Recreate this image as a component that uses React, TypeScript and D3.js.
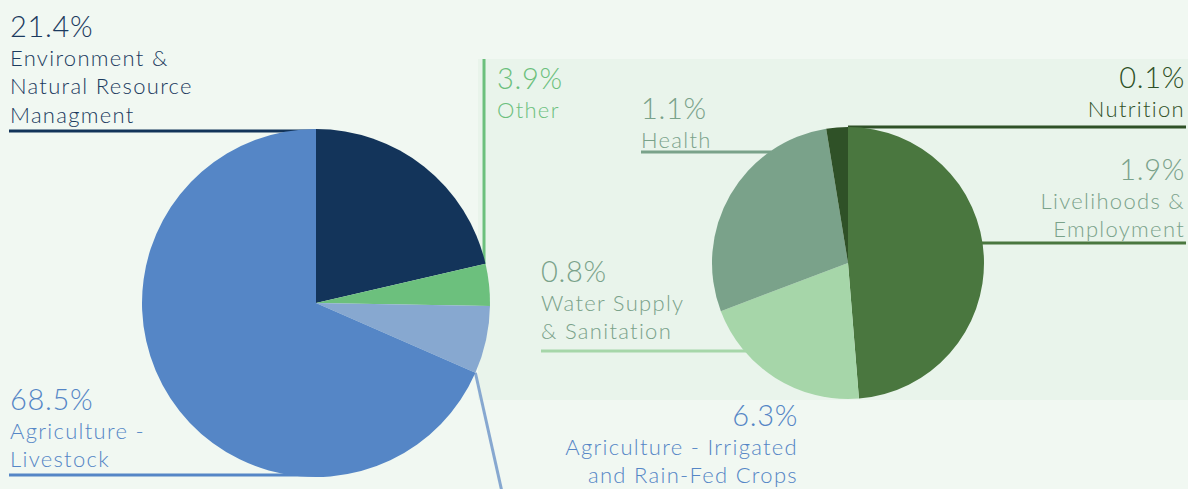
import React from "react";
import * as d3 from "d3";

const mainLabels = ["Environment & Natural Resource Managment", "Other", "Agriculture - Irrigated and Rain-Fed Crops", "Agriculture - Livestock"];
const mainValues = [21.4, 3.9, 6.3, 68.5];
const mainColors = ["#13345a", "#6cc07d", "#87a8d0", "#5586c6"];

const subLabels = ["Livelihoods & Employment", "Water Supply & Sanitation", "Health", "Nutrition"];
const subValues = [1.9, 0.8, 1.1, 0.1];
const subColors = ["#4a773f", "#a6d6a9", "#7aa28a", "#2f5127"];

const W = 1188;
const H = 489;
const FONT = "Lato, 'Open Sans', sans-serif";

export default function App() {
  const pieGen = d3.pie<number>().sort(null).startAngle(0).endAngle(2 * Math.PI);
  const mainArcs = pieGen(mainValues);
  const subArcs = pieGen(subValues);

  const c1 = { x: 316, y: 303, r: 174 };
  const c2 = { x: 848, y: 263, r: 136 };

  const arc1 = d3.arc<d3.PieArcDatum<number>>().innerRadius(0).outerRadius(c1.r);
  const arc2 = d3.arc<d3.PieArcDatum<number>>().innerRadius(0).outerRadius(c2.r);

  const pt = (c: { x: number; y: number; r: number }, a: number) => ({
    x: c.x + c.r * Math.sin(a),
    y: c.y - c.r * Math.cos(a),
  });
  const edgeXAtY = (c: { x: number; y: number; r: number }, y: number, side: number) =>
    c.x + side * Math.sqrt(c.r * c.r - (y - c.y) * (y - c.y));

  const otherStart = pt(c1, mainArcs[1].startAngle);
  const irrEnd = pt(c1, mainArcs[2].endAngle);

  const pctSize = 29;
  const lblSize = 22;

  type T = { lines: string[]; x: number; y: number; anchor: string; color: string };
  const texts: T[] = [
    { lines: ["21.4%", "Environment &", "Natural Resource", "Managment"], x: 10, y: 37, anchor: "start", color: "#1b3a5e" },
    { lines: ["3.9%", "Other"], x: 497, y: 89, anchor: "start", color: "#6cc07d" },
    { lines: ["1.1%", "Health"], x: 641, y: 119, anchor: "start", color: "#7aa28a" },
    { lines: ["0.1%", "Nutrition"], x: 1185, y: 88, anchor: "end", color: "#2f5127" },
    { lines: ["1.9%", "Livelihoods &", "Employment"], x: 1185, y: 180, anchor: "end", color: "#7aa28a" },
    { lines: ["0.8%", "Water Supply", "& Sanitation"], x: 541, y: 282, anchor: "start", color: "#7aa28a" },
    { lines: ["68.5%", "Agriculture -", "Livestock"], x: 10, y: 410, anchor: "start", color: "#5586c6" },
    { lines: ["6.3%", "Agriculture - Irrigated", "and Rain-Fed Crops"], x: 798, y: 426, anchor: "end", color: "#5586c6" },
  ];

  return (
    <svg width={W} height={H} style={{ position: "absolute", left: 0, top: 0 }}>
      <rect x={0} y={0} width={W} height={H} fill="#f1f8f2" />
      <rect x={478} y={59} width={W - 478} height={341} fill="#e9f4eb" />

      <g strokeWidth={3} fill="none">
        <line x1={9} x2={c1.x} y1={131} y2={131} stroke="#13345a" />
        <line x1={otherStart.x - 1.5} x2={otherStart.x - 1.5} y1={59} y2={otherStart.y} stroke="#6cc07d" />
        <line x1={irrEnd.x} y1={irrEnd.y} x2={502} y2={492} stroke="#87a8d0" />
        <line x1={9} x2={c1.x} y1={475} y2={475} stroke="#5586c6" />
        <line x1={c2.x} x2={1186} y1={127} y2={127} stroke="#2f5127" />
        <line x1={edgeXAtY(c2, 243, 1) - 2} x2={1186} y1={243} y2={243} stroke="#4a773f" />
        <line x1={641} x2={edgeXAtY(c2, 152, -1) + 2} y1={152} y2={152} stroke="#7aa28a" />
        <line x1={541} x2={edgeXAtY(c2, 351, -1) + 2} y1={351} y2={351} stroke="#a6d6a9" />
      </g>

      <g transform={`translate(${c1.x},${c1.y})`}>
        {mainArcs.map((a, i) => (
          <path key={mainLabels[i]} d={arc1(a) || ""} fill={mainColors[i]} />
        ))}
      </g>
      <g transform={`translate(${c2.x},${c2.y})`}>
        {subArcs.map((a, i) => (
          <path key={subLabels[i]} d={arc2(a) || ""} fill={subColors[i]} />
        ))}
      </g>

      {texts.map((t, i) => (
        <text key={i} fontFamily={FONT} fill={t.color} textAnchor={t.anchor}>
          {t.lines.map((l, j) => (
            <tspan
              key={j}
              x={t.x}
              y={t.y + j * 28.7}
              fontSize={j === 0 ? pctSize : lblSize}
              letterSpacing={j === 0 ? 0.7 : 1.3}
              fontWeight={300}
            >
              {l}
            </tspan>
          ))}
        </text>
      ))}
    </svg>
  );
}
